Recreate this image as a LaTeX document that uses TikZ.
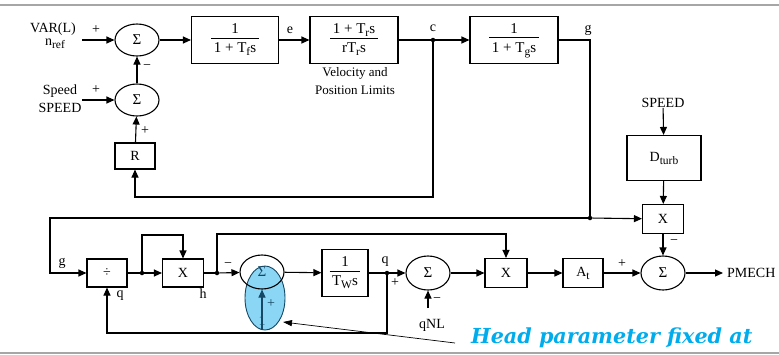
\documentclass[tikz,border=0pt]{standalone}
\usepackage{fontspec}
\setmainfont{Liberation Serif}
\newfontfamily\hfont{DejaVu Serif}
\usetikzlibrary{shapes.geometric,arrows.meta,calc}
\definecolor{headblue}{RGB}{0,172,236}
\definecolor{ellblue}{RGB}{140,214,245}
\definecolor{darkteal}{RGB}{20,72,100}
\newcommand{\sbx}[1]{\raisebox{-3pt}{\fontsize{11.5}{11.5}\selectfont #1}}
\setlength{\arrayrulewidth}{0.7pt}
\newcommand{\frc}[2]{{\fontsize{15}{16}\selectfont\begin{tabular}{@{\,}c@{\,}}#1\\[-1pt]\hline\rule{0pt}{14pt}#2\end{tabular}}}
\begin{document}
\begin{tikzpicture}[x=1pt,y=-1pt,font=\fontsize{14}{16}\selectfont,
  wire/.style={line width=1.1pt},
  arr/.style={wire,-{Triangle[length=8pt,width=7pt]}},
  blk/.style={draw,line width=1.1pt,inner sep=0pt},
  sum/.style={draw,ellipse,line width=1.1pt,minimum width=44pt,minimum height=32pt,inner sep=0pt,font=\fontsize{15}{15}\selectfont},
  jdot/.style={circle,fill,inner sep=0pt,minimum size=4.5pt},
  lbl/.style={inner sep=0pt}]
\useasboundingbox (0,0) rectangle (779,354);
\draw[gray!70,line width=1.5pt] (0,5) -- (779,5);

% ---- top row
\node[sum] (S1) at (137,40) {Σ};
\node[sum] (S2) at (137,100) {Σ};
\node[blk,minimum width=40pt,minimum height=26pt] (R) at (135,156) {R};
\node[blk,minimum width=87pt,minimum height=47pt] (B1) at (235,40) {\frc{1}{1 + T\sbx{f}s}};
\node[blk,minimum width=88pt,minimum height=47pt] (B2) at (354,40) {\frc{1 + T\sbx{r}s}{rT\sbx{r}s}};
\node[blk,minimum width=88pt,minimum height=47pt] (B3) at (514,40) {\frc{1}{1 + T\sbx{g}s}};
\node[lbl,align=center,font=\fontsize{13}{18}\selectfont] (VPL) at (355,81) {Velocity and\\Position Limits};
\node[jdot] (jc) at (433,40) {};
\coordinate (gc) at (590,40);
\node[jdot] (jg) at (590,218) {};
\coordinate (rb) at (433,197);
\coordinate (in1) at (82,40);
\coordinate (in2) at (82,100);
\node[lbl] (var) at (53,29) {VAR(L)};
\node[lbl] (nref) at (55,44) {n\sbx{ref}};
\node[lbl] (spd) at (60,91) {Speed};
\node[lbl] (SPD) at (60,108) {SPEED};

\draw[arr] (in1) -- (S1);
\draw[arr] (in2) -- (S2);
\draw[arr] (S1) -- (B1);
\draw[arr] (B1) -- (B2);
\draw[wire] (B2) -- (jc);
\draw[arr] (jc) -- (B3);
\draw[wire] (B3.east) -- (gc) -- (jg);
\draw[arr] (jc) -- (rb) -| (R.south);
\draw[arr] (R) -- (S2);
\draw[arr] (S2) -- (S1);

\node[lbl] at (96,30) {+};
\node[lbl] at (96,90) {+};
\node[lbl] at (147,67) {\textminus};
\node[lbl] at (145,131) {+};
\node[lbl] at (290,30) {e};
\node[lbl] at (433,28) {c};
\node[lbl] at (588,30) {g};

% ---- right column
\node[lbl] (SP) at (663,103) {SPEED};
\node[blk,minimum width=74pt,minimum height=45pt] (D) at (664,158) {D\sbx{turb}};
\node[blk,minimum width=41pt,minimum height=29pt] (Xr) at (663,219) {X};
\node[sum,minimum height=34pt] (Sf) at (663,273) {Σ};
\node[lbl,anchor=west] (PM) at (727,273) {PMECH};
\draw[arr] (SP) -- (D);
\draw[arr] (D) -- (Xr);
\draw[arr] (jg) -- (Xr);
\draw[arr] (Xr) -- (Sf);
\draw[arr,shorten >=4pt] (Sf) -- (PM.west);
\node[lbl] at (674,242) {\textminus};
\node[lbl] at (622,264) {+};

% ---- highlighted input (drawn under the summing junction)
\node[ellipse,draw=darkteal,line width=0.9pt,fill=ellblue,minimum width=40pt,minimum height=64pt,inner sep=0pt] (BE) at (265,298) {};

% ---- bottom row
\node[blk,minimum width=40pt,minimum height=29pt] (At) at (583,273) {A\sbx{t}};
\node[blk,minimum width=42pt,minimum height=29pt] (Xm) at (506,273) {X};
\node[sum,minimum height=34pt] (S3) at (428,273) {Σ};
\node[blk,minimum width=46pt,minimum height=47pt] (Tw) at (345,273) {\frc{1}{T\sbx{W}s}};
\node[sum,minimum height=34pt,text=darkteal] (Sh) at (262,272) {Σ};
\node[blk,minimum width=41pt,minimum height=28pt] (Xl) at (183,273) {X};
\node[blk,minimum width=40pt,minimum height=28pt] (Dv) at (107,273) {÷};
\node[jdot] (j1) at (142,273) {};
\node[jdot] (j2) at (217,273) {};
\node[jdot] (jq) at (387,273) {};
\coordinate (a1) at (142,235);
\coordinate (a2) at (217,234);
\coordinate (g1) at (50,218);
\coordinate (q1) at (387,333);
\coordinate (qa) at (428,308);
\node[lbl] (qnl) at (432,325) {qNL};

\draw[arr] (At) -- (Sf);
\draw[arr] (Xm) -- (At);
\draw[arr] (S3) -- (Xm);
\draw[arr] (Tw) -- (S3);
\draw[arr] (Sh) -- (Tw);
\draw[arr] (j2) -- (Sh);
\draw[wire] (Xl) -- (j2);
\draw[arr] (j1) -- (Xl);
\draw[wire] (Dv) -- (j1);
\draw[arr] (j1) -- (a1) -| (Xl.north);
\draw[arr] (j2) -- (a2) -| (Xm.north);
\draw[arr] (jg) -- (g1) |- (Dv.west);
\draw[arr] (jq) -- (q1) -| (Dv.south);
\draw[arr] (qa) -- (S3.south);

\node[lbl] at (62,263) {g};
\node[lbl] at (120,296) {q};
\node[lbl] at (203,294) {h};
\node[lbl] at (228,265) {\textminus};
\node[lbl] at (385,262) {q};
\node[lbl] at (395,283) {+};
\node[lbl] at (437,300) {\textminus};

\node[lbl,text=darkteal] (one) at (262,321) {1};
\coordinate (hb) at (262,330);
\draw[arr,darkteal] (hb) -- (Sh.south);
\node[lbl,text=darkteal] at (271,304) {+};

% ---- annotation
\coordinate (an1) at (455,343);
\coordinate (an2) at (283,322);
\draw[line width=0.7pt,-{Triangle[length=9pt,width=6pt]}] (an1) -- (an2);
\node[anchor=west,inner sep=0pt,text=headblue,font=\hfont\bfseries\itshape\fontsize{20.7}{20.7}\selectfont] (head) at (471,338) {Head parameter fixed at};

\draw[gray!70,line width=1.5pt] (0,353) -- (779,353);
\end{tikzpicture}
\end{document}
